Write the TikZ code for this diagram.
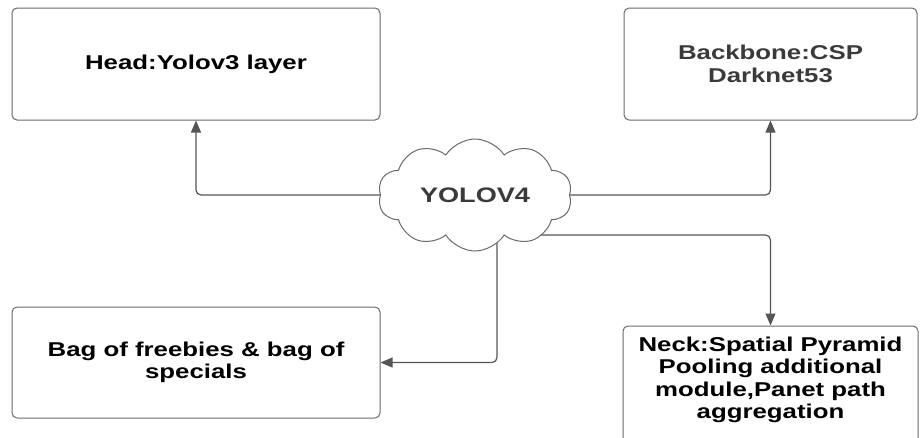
\documentclass[tikz,border=0pt]{standalone}
\usepackage{fontspec}
\newfontfamily\labfont[FakeStretch=1.29]{Liberation Sans}
\usetikzlibrary{shapes.symbols,arrows.meta}
\pgfdeclarelayer{bg}
\pgfsetlayers{bg,main}
\definecolor{linegray}{HTML}{555555}
\definecolor{boxgray}{HTML}{6A6A6A}
\definecolor{textgray}{HTML}{3A3A3A}
\tikzset{
  lab/.style={font=\labfont\bfseries\fontsize{20}{22.5}\selectfont, align=center},
  box/.style={lab, draw=boxgray, line width=1pt, rounded corners=5pt, fill=white, inner sep=0pt},
  conn/.style={draw=linegray, line width=1.2pt, rounded corners=5pt, -{Triangle[length=12pt,width=10pt]}},
}
\begin{document}
\begin{tikzpicture}[x=1pt,y=-1pt]
\clip (0,0) rectangle (920,437);
\node[box, minimum width=368pt, minimum height=112pt] (head) at (196,64) {Head:Yolov3 layer};
\node[box, minimum width=293pt, minimum height=112pt, text=textgray] (bb) at (770.5,64) {Backbone:CSP\\Darknet53};
\node[box, minimum width=368pt, minimum height=111pt] (bag) at (196,362.5) {Bag of freebies \& bag of\\specials};
\node[box, minimum width=295pt, minimum height=120pt] (neck) at (770.5,386) {};
\node[lab] (necktext) at (770.5,380) {Neck:Spatial Pyramid\\Pooling additional\\module,Panet path\\aggregation};
\node[cloud, cloud puffs=10, cloud puff arc=115, aspect=1.75, draw=boxgray, line width=1pt, fill=white,
      minimum width=194pt, minimum height=112pt, inner sep=0pt,
      font=\labfont\bfseries\fontsize{21}{24}\selectfont, text=textgray] (cloud) at (475,195) {YOLOV4};
\begin{pgfonlayer}{bg}
\draw[conn] (cloud.center) -| (head.south);
\draw[conn] (cloud.center) -| (bb.south);
\draw[conn] ([yshift=-40pt]cloud.center) -| (neck.north);
\draw[conn] ([xshift=22pt]cloud.center) |- (bag.east);
\end{pgfonlayer}
\end{tikzpicture}
\end{document}
